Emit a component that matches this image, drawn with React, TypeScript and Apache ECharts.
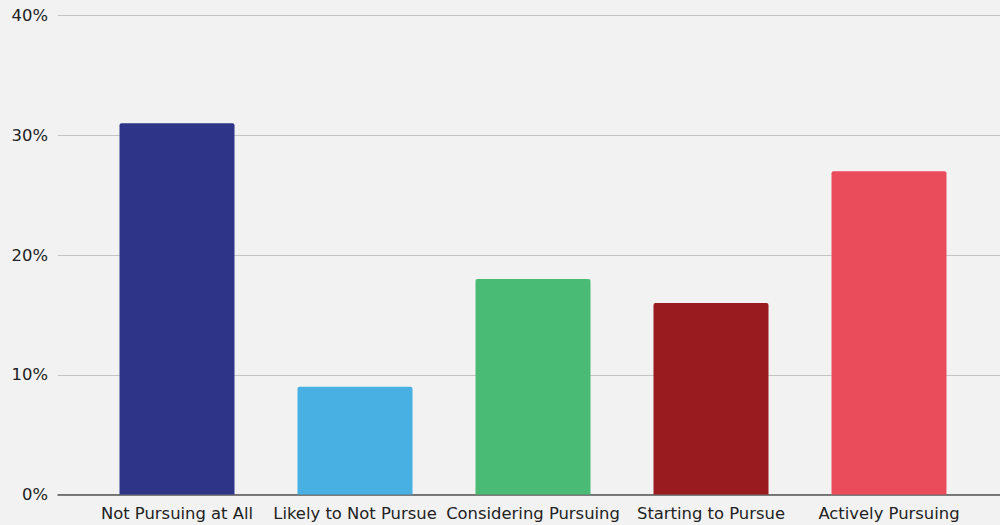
import React, { useEffect, useRef } from "react";
import * as echarts from "echarts";

const categories = [
  "Not Pursuing at All",
  "Likely to Not Pursue",
  "Considering Pursuing",
  "Starting to Pursue",
  "Actively Pursuing",
];
const values = [31, 9, 18, 16, 27];
const colors = ["#2e3589", "#48b0e2", "#49bb75", "#991b1f", "#ea4c5b"];
const yTicks = [0, 10, 20, 30, 40];

export default function App() {
  const ref = useRef<HTMLDivElement>(null);
  useEffect(() => {
    document.body.style.margin = "0";
    const chart = echarts.init(ref.current!, null, { renderer: "svg" });
    const font = "DejaVu Sans";
    chart.setOption({
      animation: false,
      backgroundColor: "#f2f2f2",
      grid: [
        { left: 58, right: 0, top: 15.5, bottom: 30.5 },
        { left: 88, right: 22, top: 15.5, bottom: 30.5 },
      ],
      xAxis: [
        {
          gridIndex: 0,
          type: "value",
          min: 0,
          max: 1,
          axisLabel: { show: false },
          axisTick: { show: false },
          splitLine: { show: false },
          axisLine: { show: true, lineStyle: { color: "#555", width: 1.5 } },
        },
        {
          gridIndex: 1,
          type: "category",
          data: categories,
          axisLine: { show: false },
          axisTick: { show: false },
          axisLabel: {
            color: "#222",
            fontFamily: font,
            fontSize: 16.4,
            margin: 11,
            interval: 0,
          },
        },
      ],
      yAxis: [
        {
          gridIndex: 0,
          type: "value",
          min: yTicks[0],
          max: yTicks[yTicks.length - 1],
          interval: 10,
          axisLine: { show: false },
          axisTick: { show: false },
          axisLabel: {
            formatter: "{value}%",
            color: "#222",
            fontFamily: font,
            fontSize: 16.4,
            margin: 10,
          },
          splitLine: { lineStyle: { color: "#c4c4c4", width: 1 } },
        },
        {
          gridIndex: 1,
          type: "value",
          min: 0,
          max: 40,
          show: false,
        },
      ],
      series: [
        {
          type: "bar",
          xAxisIndex: 1,
          yAxisIndex: 1,
          barWidth: 115,
          data: values.map((v, i) => ({
            value: v,
            itemStyle: { color: colors[i], borderRadius: [2, 2, 0, 0] },
          })),
        },
      ],
    });
    return () => chart.dispose();
  }, []);
  return <div ref={ref} style={{ width: 1000, height: 525 }} />;
}
